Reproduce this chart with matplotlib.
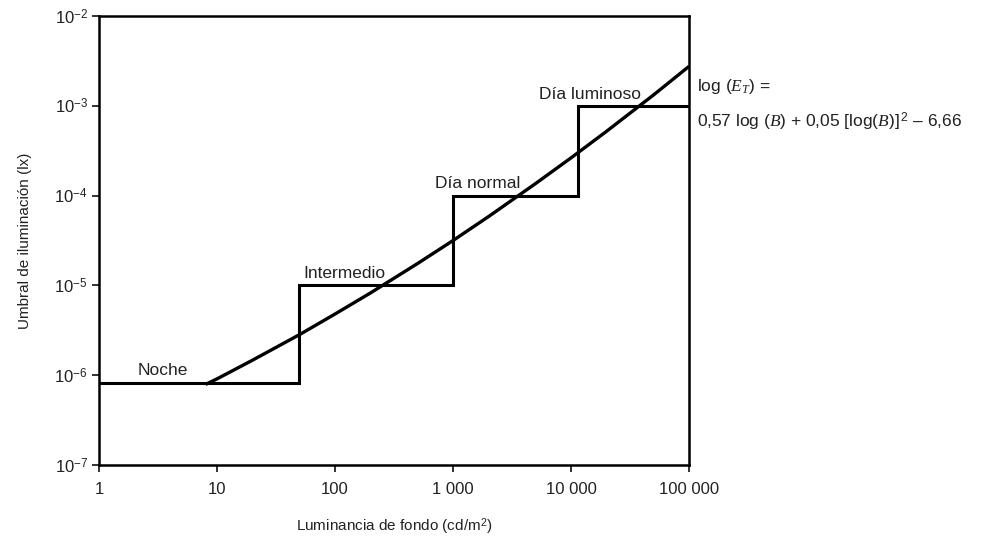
import matplotlib
matplotlib.use("Agg")
import matplotlib.pyplot as plt
from matplotlib.ticker import FixedLocator, NullLocator

plt.rcParams['font.family'] = ['Liberation Sans', 'DejaVu Sans']
plt.rcParams['mathtext.fontset'] = 'custom'
plt.rcParams['mathtext.rm'] = 'Liberation Sans'
plt.rcParams['mathtext.it'] = 'Liberation Serif:italic'
plt.rcParams['mathtext.bf'] = 'Liberation Sans:bold'

# ---- data ----
step_edges = [1, 50, 1000, 11500, 100000]
step_levels = [8.2e-7, 1e-5, 1e-4, 1e-3]
step_names = ["Noche", "Intermedio", "Día normal", "Día luminoso"]

curve_x = [8, 10, 20, 50, 100, 200, 500, 1000, 2000, 5000, 10000, 20000, 50000, 100000]
curve_y = [7.9e-7, 9.1e-7, 1.47e-6, 2.83e-6, 4.8e-6, 8.25e-6, 1.75e-5, 3.16e-5,
           5.84e-5, 1.36e-4, 2.63e-4, 5.2e-4, 1.32e-3, 2.75e-3]

x_ticks = [1, 10, 100, 1000, 10000, 100000]
x_ticklabels = ["1", "10", "100", "1 000", "10 000", "100 000"]
y_ticks = [1e-7, 1e-6, 1e-5, 1e-4, 1e-3, 1e-2]
y_ticklabels = [r"$10^{-7}$", r"$10^{-6}$", r"$10^{-5}$", r"$10^{-4}$", r"$10^{-3}$", r"$10^{-2}$"]

fig = plt.figure(figsize=(9.88, 5.44), dpi=100)
ax = fig.add_axes([0.1002, 0.1452, 0.5972, 0.8254])
ax.set_xscale('log')
ax.set_yscale('log')
ax.set_xlim(1, 100000)
ax.set_ylim(1e-7, 1e-2)

ax.stairs(step_levels, step_edges, baseline=None, color='black', lw=2.2)
ax.plot(curve_x, curve_y, color='black', lw=2.4, solid_capstyle='butt')

# step labels
label_pos = [(3.5, 1.14e-6), (121, 1.37e-5), (1630, 1.35e-4), (14500, 1.32e-3)]
for name, (lx, ly) in zip(step_names, label_pos):
    ax.text(lx, ly, name, ha='center', va='center', fontsize=12.5, color='#222222')

ax.xaxis.set_major_locator(FixedLocator(x_ticks))
ax.xaxis.set_minor_locator(NullLocator())
ax.set_xticklabels(x_ticklabels)
ax.yaxis.set_major_locator(FixedLocator(y_ticks))
ax.yaxis.set_minor_locator(NullLocator())
ax.set_yticklabels(y_ticklabels)
ax.tick_params(direction='out', length=5, width=1.3, labelsize=12, colors='#222222')
ax.tick_params(axis='x', pad=7)
ax.tick_params(axis='y', pad=3)

for s in ax.spines.values():
    s.set_linewidth(1.8)

ax.set_xlabel("Luminancia de fondo (cd/m$^2$)", fontsize=11, color='#222222', labelpad=14)
ax.set_ylabel("Umbral de iluminación (lx)", fontsize=11, color='#222222', labelpad=16)

fig.text(697/988, 1 - 87/544, r"log ($E_T$) =", fontsize=12.5, va='center', ha='left', color='#222222')
fig.text(697/988, 1 - 122/544, r"0,57 log ($B$) + 0,05 [log($B$)]$^{\,2}$ – 6,66",
         fontsize=12.5, va='center', ha='left', color='#222222')

fig.savefig("out.png", dpi=100)
